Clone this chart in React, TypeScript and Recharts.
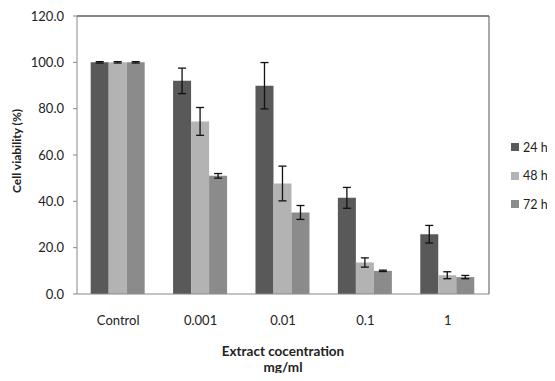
import { BarChart, Bar, XAxis, YAxis, ErrorBar, ReferenceLine, Label } from 'recharts';

const categories = ['Control', '0.001', '0.01', '0.1', '1'];
const h24 = [100, 92, 89.9, 41.5, 25.8];
const h48 = [100, 74.5, 47.7, 13.6, 8.1];
const h72 = [100, 51, 35.2, 10, 7.3];
const err24 = [0.3, 5.5, 10, 4.5, 3.8];
const err48 = [0.3, 6, 7.5, 2, 1.5];
const err72 = [0.3, 1, 3, 0.3, 0.7];
const yTicks = [0, 20, 40, 60, 80, 100, 120];

const SERIES = [
  { key: 'h24', name: '24 h', color: '#595959', err: 'e24' },
  { key: 'h48', name: '48 h', color: '#b3b3b3', err: 'e48' },
  { key: 'h72', name: '72 h', color: '#8b8b8b', err: 'e72' },
];

const data = categories.map((c, i) => ({
  name: c,
  h24: h24[i], h48: h48[i], h72: h72[i],
  e24: err24[i], e48: err48[i], e72: err72[i],
}));

const FONT = 'Lato, "Liberation Sans", sans-serif';

export default function App() {
  return (
    <div style={{ position: 'relative', width: 555, height: 381, margin: -8, background: '#fff' }}>
      <BarChart width={555} height={381} data={data}
        margin={{ top: 16, right: 0, left: 0, bottom: 0 }}
        barCategoryGap="16.6%" barGap={0}>
        <XAxis dataKey="name" height={87} stroke="#888" tickLine={false} tickMargin={16}
          tick={{ fill: '#222', fontSize: 13, fontFamily: FONT }} />
        <YAxis domain={[0, 120]} ticks={yTicks} width={77} stroke="#888" tickSize={4} tickMargin={9}
          tickFormatter={(v: number) => v.toFixed(1)} interval={0}
          tick={{ fill: '#222', fontSize: 13, fontFamily: FONT }}>
          <Label angle={-90} position="insideLeft" offset={17} dy={-4}
            style={{ fontWeight: 'bold', fontSize: 12, fontFamily: FONT, fill: '#222', textAnchor: 'middle' }}>
            Cell viability (%)
          </Label>
        </YAxis>
        <YAxis yAxisId="r" orientation="right" width={66} stroke="#555" axisLine={{ stroke: '#555' }}
          tick={false} tickLine={false} domain={[0, 120]} />
        <ReferenceLine y={120} stroke="#111" strokeWidth={1.2} ifOverflow="extendDomain" />
        {SERIES.map(s => (
          <Bar key={s.key} dataKey={s.key} name={s.name} fill={s.color} isAnimationActive={false}>
            <ErrorBar dataKey={s.err} width={4} stroke="#111" strokeWidth={1.3} />
          </Bar>
        ))}
      </BarChart>
      <div style={{ position: 'absolute', left: 511, top: 133, width: 44, whiteSpace: 'nowrap',
        fontFamily: FONT, fontSize: 12.5, color: '#222' }}>
        {SERIES.map(s => (
          <div key={s.key} style={{ display: 'flex', alignItems: 'center', height: 28.5 }}>
            <span style={{ width: 8, height: 8, background: s.color, display: 'inline-block', marginRight: 4, flexShrink: 0 }} />
            {s.name}
          </div>
        ))}
      </div>
      <div style={{ position: 'absolute', left: 77, width: 412, top: 343, textAlign: 'center',
        fontFamily: FONT, fontSize: 13.5, fontWeight: 'bold', color: '#222', lineHeight: '16px' }}>
        Extract cocentration<br />mg/ml
      </div>
    </div>
  );
}
